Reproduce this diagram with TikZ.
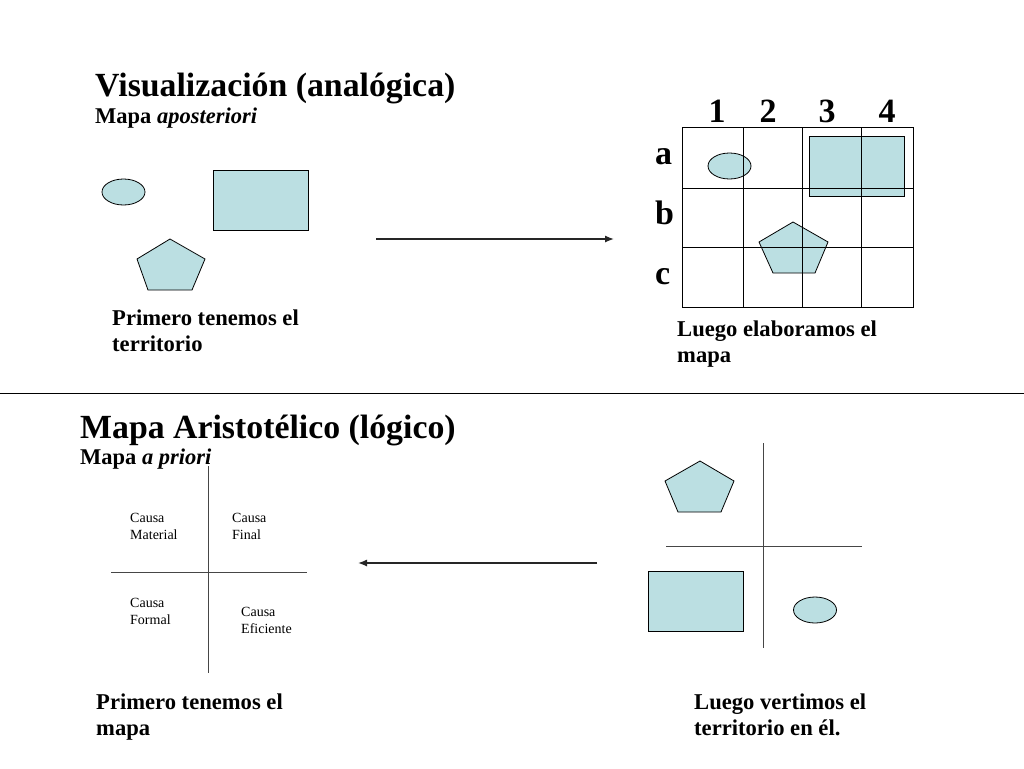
\documentclass[tikz,border=0pt]{standalone}
\usepackage{fontspec}
\setmainfont{Liberation Serif}
\usetikzlibrary{shapes.geometric,arrows.meta}
\definecolor{shapefill}{RGB}{187,223,226}
\definecolor{axisgray}{RGB}{70,70,70}
\begin{document}
\begin{tikzpicture}[x=1pt,y=-1pt,
  lbl/.style={anchor=base west,inner sep=0pt,font=\bfseries\fontsize{22.6}{26}\selectfont},
  sub/.style={anchor=base west,inner sep=0pt,font=\bfseries\fontsize{22.5}{26}\selectfont},
  ttl/.style={anchor=base west,inner sep=0pt,font=\bfseries\fontsize{33.8}{38}\selectfont},
  gridlbl/.style={anchor=base,inner sep=0pt,font=\bfseries\fontsize{34}{38}\selectfont},
  small/.style={anchor=base west,inner sep=0pt,font=\fontsize{14}{17}\selectfont},
  blob/.style={ellipse,draw=black,fill=shapefill,line width=0.8pt,minimum width=43pt,minimum height=26pt,inner sep=0pt},
  box/.style={rectangle,draw=black,fill=shapefill,line width=0.8pt,minimum width=95pt,minimum height=60pt,inner sep=0pt},
  pent/.style={draw=black,fill=shapefill,line width=0.8pt,line join=miter},
  gridline/.style={draw=black,line width=0.9pt},
  axis/.style={draw=axisgray,line width=1pt},
  arr/.style={draw=black!85,line width=1.3pt,-{Latex[length=9pt,width=7pt]}}
]
\useasboundingbox[fill=white] (0,0) rectangle (1024,768);

% ---------- top half ----------
\node[ttl] (t1) at (95,96) {Visualización (analógica)};
\node[sub] (s1) at (95,123) {Mapa \textit{aposteriori}};

\node[blob] (e1) at (123.5,192) {};
\node[box] (r1) at (260.5,200) {};
\draw[pent] (170,239) -- (205,259) -- (192,290) -- (148,290) -- (137,259) -- cycle;

\node[lbl] (p1a) at (112,325) {Primero tenemos el};
\node[lbl] (p1b) at (112,351) {territorio};

\coordinate (a1s) at (376,239);
\coordinate (a1e) at (614,239);
\draw[arr] (a1s) -- (a1e);

% grid shapes
\node[blob] (e2) at (729.5,166) {};
\node[box] (r2) at (857,166) {};
\draw[pent] (793,222) -- (828,242) -- (815,273) -- (773,273) -- (759,242) -- cycle;

% grid
\draw[gridline] (682,127) rectangle (913,307);
\foreach \x in {743,802,861} \draw[gridline] (\x,127) -- (\x,307);
\foreach \y in {188,247} \draw[gridline] (682,\y) -- (913,\y);

\node[gridlbl] (c1) at (717,122) {1};
\node[gridlbl] (c2) at (768,122) {2};
\node[gridlbl] (c3) at (827,122) {3};
\node[gridlbl] (c4) at (887,122) {4};
\node[gridlbl,anchor=base west] (ra) at (655,164) {a};
\node[gridlbl,anchor=base west] (rb) at (655,224) {b};
\node[gridlbl,anchor=base west] (rc) at (655,284) {c};

\node[lbl] (l1a) at (677,336) {Luego elaboramos el};
\node[lbl] (l1b) at (677,362) {mapa};

% separator
\draw[line width=1pt] (0,393) -- (1024,393);

% ---------- bottom half ----------
\node[ttl] (t2) at (80,438) {Mapa Aristotélico (lógico)};
\node[sub] (s2) at (80,464) {Mapa \textit{a priori}};

\draw[axis] (208,466) -- (208,673);
\draw[axis] (111,572) -- (307,572);

\node[small] (cm1) at (130,522) {Causa};
\node[small] (cm2) at (130,539) {Material};
\node[small] (cf1) at (232,522) {Causa};
\node[small] (cf2) at (232,539) {Final};
\node[small] (co1) at (130,607) {Causa};
\node[small] (co2) at (130,624) {Formal};
\node[small] (ce1) at (241,616) {Causa};
\node[small] (ce2) at (241,633) {Eficiente};

\coordinate (a2s) at (597,563);
\coordinate (a2e) at (358,563);
\draw[arr] (a2s) -- (a2e);

\draw[axis] (763,443) -- (763,648);
\draw[axis] (666,546) -- (862,546);
\draw[pent] (700,461) -- (734,481) -- (721,512) -- (678,512) -- (665,481) -- cycle;
\node[box] (r3) at (695.5,601) {};
\node[blob] (e3) at (815,610) {};

\node[lbl] (p2a) at (96,709) {Primero tenemos el};
\node[lbl] (p2b) at (96,735) {mapa};

\node[lbl] (l2a) at (694,709) {Luego vertimos el};
\node[lbl] (l2b) at (694,735) {territorio en él.};
\end{tikzpicture}
\end{document}
